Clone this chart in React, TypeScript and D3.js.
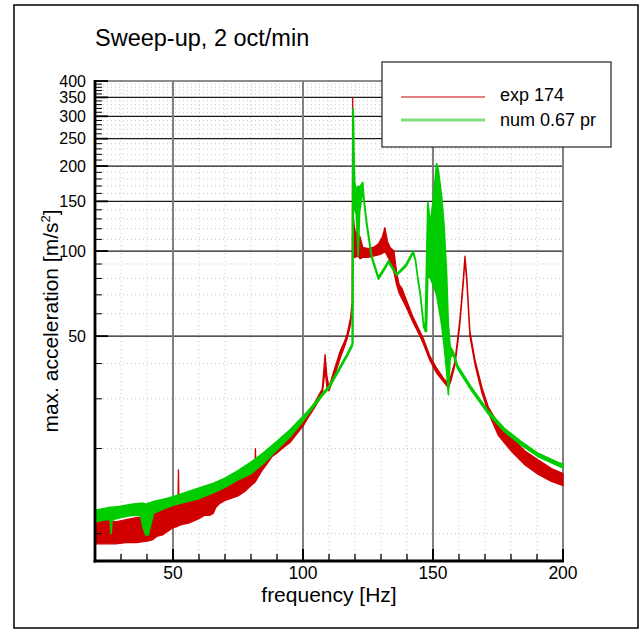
import React from 'react';
import * as d3 from 'd3';

const W = 644;
const H = 630;

// exp 174 (red) — envelope of the measured band
const expFreq = [20, 24, 28, 32, 36, 40, 42, 44, 46, 48, 50, 51.9, 52.1, 52.3, 54, 56, 58, 60, 62, 64, 65.5, 66.5, 68, 70, 72, 75, 78, 80, 81.5, 81.7, 81.9, 84, 86, 88, 90, 92, 95, 98, 100, 102, 104, 106, 107.4, 108.5, 109.2, 110, 112, 114.4, 116, 117, 118.3, 118.9, 119.0, 119.1, 119.2, 119.6, 120, 121, 122, 123, 125, 127, 129, 130.5, 131.5, 132.5, 133.5, 135, 136, 137, 138, 139.8, 142.3, 144.3, 146.3, 148.8, 151.4, 154, 155.9, 157, 158.4, 159.6, 160.4, 161.7, 162.3, 163, 164.2, 166.2, 168.8, 171.3, 175.1, 180.3, 185.4, 190.5, 195.6, 200];
const expLow = [9.2, 9.2, 9.2, 9.3, 9.3, 9.4, 9.5, 9.8, 9.9, 10.2, 10.5, 10.6, 10.7, 10.7, 10.8, 10.9, 11.1, 11.3, 11.6, 11.6, 11.8, 12.4, 12.8, 13.1, 13.3, 13.6, 14.2, 14.8, 15.2, 15.3, 15.4, 16.6, 17.6, 18.7, 19.3, 20.0, 21.0, 22.8, 24.0, 25.8, 27.5, 29.5, 31.0, 38, 33, 32, 36, 42, 46, 49, 55, 62, 62, 66, 95, 95, 95, 96, 94, 95, 95, 96, 97, 98, 100, 96, 92, 84, 76, 71, 68, 63, 56, 51.5, 47, 41, 37, 34.5, 32.8, 35, 39.3, 48, 56, 78, 93, 78, 50, 39.5, 31.5, 26.8, 22.3, 19.5, 17.5, 16.2, 15.3, 14.8];
const expHigh = [11.0, 11.3, 11.0, 11.2, 11.4, 11.5, 12.2, 12.5, 12.5, 12.3, 12.5, 12.6, 16.8, 12.6, 12.8, 13.0, 13.2, 13.5, 13.9, 13.9, 14.0, 15.0, 14.9, 15.1, 15.3, 15.6, 16.0, 16.4, 16.8, 20.0, 17.0, 18.0, 19.0, 20.0, 20.6, 21.3, 22.2, 24.0, 25.3, 26.8, 28.5, 30.8, 32.5, 43, 36, 33, 38, 44.5, 48, 51, 58, 66, 120, 350, 140, 125, 118, 115, 112, 103, 102, 103, 106, 112, 121, 108, 103, 100, 84, 76, 74, 67, 58.5, 53.5, 49, 42.5, 38.5, 35.5, 34, 36.5, 40.5, 50, 58, 81, 96, 81, 52, 41, 33, 28, 24.5, 21.8, 19.6, 18.2, 17, 16.3];

// num 0.67 pr (green)
const numFreq = [20, 24, 25.8, 26.2, 26.6, 30, 34, 37.5, 38.5, 39.5, 40.5, 41.5, 42.5, 46, 50, 54, 60, 65, 70, 75, 80, 85, 90, 95, 100, 102, 105, 107.8, 110, 114.4, 117, 118.9, 119.2, 119.4, 119.7, 119.9, 120.5, 121.2, 121.8, 122.4, 123, 123.5, 124.5, 126.4, 129, 131, 132.9, 136, 139.5, 142.4, 143.3, 144.2, 145.1, 146.4, 147, 147.5, 148, 149, 150, 151.4, 152, 153.3, 154.2, 155.2, 155.9, 156.6, 157.8, 159.4, 164.6, 171, 177.4, 183.8, 190.2, 198.5, 200];
const numLow = [11.0, 11.2, 11.2, 10.0, 11.2, 11.4, 11.6, 11.6, 10.5, 9.9, 9.9, 10.8, 11.8, 12.2, 12.6, 12.9, 13.3, 13.9, 14.6, 15.5, 16.3, 17.8, 19.8, 22.0, 25.0, 26.5, 28.8, 31.0, 32.7, 38.5, 42.5, 46, 47, 240, 180, 140, 135, 96, 138, 150, 165, 148, 123, 94.5, 79.5, 85, 91, 82, 88, 98.5, 92, 79, 70, 54, 52, 52, 82, 80, 76, 70, 65, 55, 47, 38, 31, 42, 43, 38.5, 32.3, 26.7, 23.0, 20.6, 18.8, 17.3, 17.1];
const numHigh = [12.1, 12.3, 12.4, 12.4, 12.4, 12.5, 12.7, 12.8, 12.8, 12.7, 12.8, 12.9, 13.0, 13.2, 13.5, 13.9, 14.5, 15.0, 15.7, 16.7, 17.9, 19.4, 21.2, 23.3, 26.0, 27.2, 29.4, 31.6, 33.3, 39.3, 43.3, 47, 320, 300, 200, 175, 165, 170, 168, 172, 175, 152, 127, 96.5, 81, 86.5, 92.5, 83, 89.5, 100, 93, 80, 71, 55, 53.5, 90, 149, 125, 150, 204, 195, 157, 125, 85, 55, 46, 44, 39.5, 33.1, 27.4, 23.6, 21.2, 19.3, 17.8, 17.6];

const xDomain = [20, 200];
const yDomain = [8, 400];
const xMajorTicks = [50, 100, 150, 200];
const yMajorTicks = [50, 100, 150, 200, 250, 300, 350, 400];
const xMinorTicks = [30, 40, 60, 70, 80, 90, 110, 120, 130, 140, 160, 170, 180, 190];
const yMinorTicks = [10, 20, 30, 40, 60, 70, 80, 90, 110, 120, 130, 140, 160, 170, 180, 190, 210, 220, 230, 240, 260, 270, 280, 290, 310, 320, 330, 340, 360, 370, 380, 390];

const legendItems = [
  { label: 'exp 174', color: '#c80000', width: 1.2 },
  { label: 'num 0.67 pr', color: '#80e080', width: 3 },
];

const FONT = '"Liberation Sans", Arial, Helvetica, sans-serif';

export default function App() {
  const L = 95, R = 563, T = 81, B = 561;
  const x = d3.scaleLinear().domain(xDomain).range([L, R]);
  const y = d3.scaleLog().domain(yDomain).range([B, T]);

  const band = (fr: number[], lo: number[], hi: number[]) =>
    d3
      .area<number>()
      .x((d) => x(d))
      .y0((_, i) => y(lo[i]))
      .y1((_, i) => y(hi[i]))(fr) as string;

  const expPath = band(expFreq, expLow, expHigh);
  const numPath = band(numFreq, numLow, numHigh);

  return (
    <svg width={W} height={H} style={{ position: 'absolute', left: 0, top: 0, background: '#fff' }} fontFamily={FONT}>
      <rect x={0} y={0} width={W} height={H} fill="#fff" />
      <rect x={14} y={5} width={624} height={623} fill="none" stroke="#000" strokeWidth={1.5} />

      <text x={95} y={46} fontSize={23.5} fill="#000">Sweep-up, 2 oct/min</text>

      {/* dotted minor grid */}
      {xMinorTicks.map((t) => (
        <line key={'gx' + t} x1={x(t)} x2={x(t)} y1={T} y2={B} stroke="#c8c8c8" strokeWidth={1} strokeDasharray="1,3" />
      ))}
      {yMinorTicks.map((t) => (
        <line key={'gy' + t} x1={L} x2={R} y1={y(t)} y2={y(t)} stroke="#c8c8c8" strokeWidth={1} strokeDasharray="1,3" />
      ))}
      {/* major grid */}
      {yMajorTicks.map((t) => (
        <line key={'My' + t} x1={L} x2={R} y1={y(t)} y2={y(t)} stroke="#1a1a1a" strokeWidth={1.2} />
      ))}
      {xMajorTicks.map((t) => (
        <line key={'Mx' + t} x1={x(t)} x2={x(t)} y1={T} y2={B} stroke="#808080" strokeWidth={2} />
      ))}

      {/* data */}
      <path d={expPath} fill="#d00000" stroke="#d00000" strokeWidth={1.3} strokeLinejoin="round" />
      <path d={numPath} fill="#00cc00" stroke="#00cc00" strokeWidth={1.6} strokeLinejoin="round" />

      {/* axes */}
      <line x1={L} x2={L} y1={T - 1} y2={B + 1.5} stroke="#000" strokeWidth={2.8} />
      <line x1={L - 1.4} x2={R + 1} y1={B} y2={B} stroke="#000" strokeWidth={2.8} />

      {yMajorTicks.map((t) => (
        <line key={'ty' + t} x1={L} x2={L + 13} y1={y(t)} y2={y(t)} stroke="#000" strokeWidth={1.8} />
      ))}
      {yMinorTicks.map((t) => (
        <line key={'tym' + t} x1={L} x2={L + 7} y1={y(t)} y2={y(t)} stroke="#000" strokeWidth={1} />
      ))}
      {xMajorTicks.map((t) => (
        <line key={'tx' + t} x1={x(t)} x2={x(t)} y1={B} y2={B - 12} stroke="#000" strokeWidth={2} />
      ))}
      {xMinorTicks.map((t) => (
        <line key={'txm' + t} x1={x(t)} x2={x(t)} y1={B} y2={B - 7} stroke="#000" strokeWidth={1.3} />
      ))}

      {yMajorTicks.map((t) => (
        <text key={'ly' + t} x={86} y={y(t)} dy="0.35em" fontSize={16} textAnchor="end" fill="#000">{t}</text>
      ))}
      {xMajorTicks.map((t) => (
        <text key={'lx' + t} x={x(t)} y={579} fontSize={17.5} textAnchor="middle" fill="#000">{t}</text>
      ))}

      <text x={(L + R) / 2} y={602} fontSize={21} textAnchor="middle" fill="#000">frequency [Hz]</text>
      <text transform={`translate(58,${(T + B) / 2}) rotate(-90)`} fontSize={21} textAnchor="middle" fill="#000">
        max. acceleration [m/s<tspan dy="-8" fontSize={13}>2</tspan><tspan dy="8">]</tspan>
      </text>

      {/* legend */}
      <rect x={382} y={62} width={229} height={85} fill="#fff" stroke="#333" strokeWidth={1.3} />
      {legendItems.map((it, i) => (
        <g key={it.label}>
          <line x1={401} x2={485} y1={97 + i * 23} y2={97 + i * 23} stroke={it.color} strokeWidth={it.width} />
          <text x={500} y={101 + i * 25} fontSize={18} fill="#000">{it.label}</text>
        </g>
      ))}
    </svg>
  );
}
